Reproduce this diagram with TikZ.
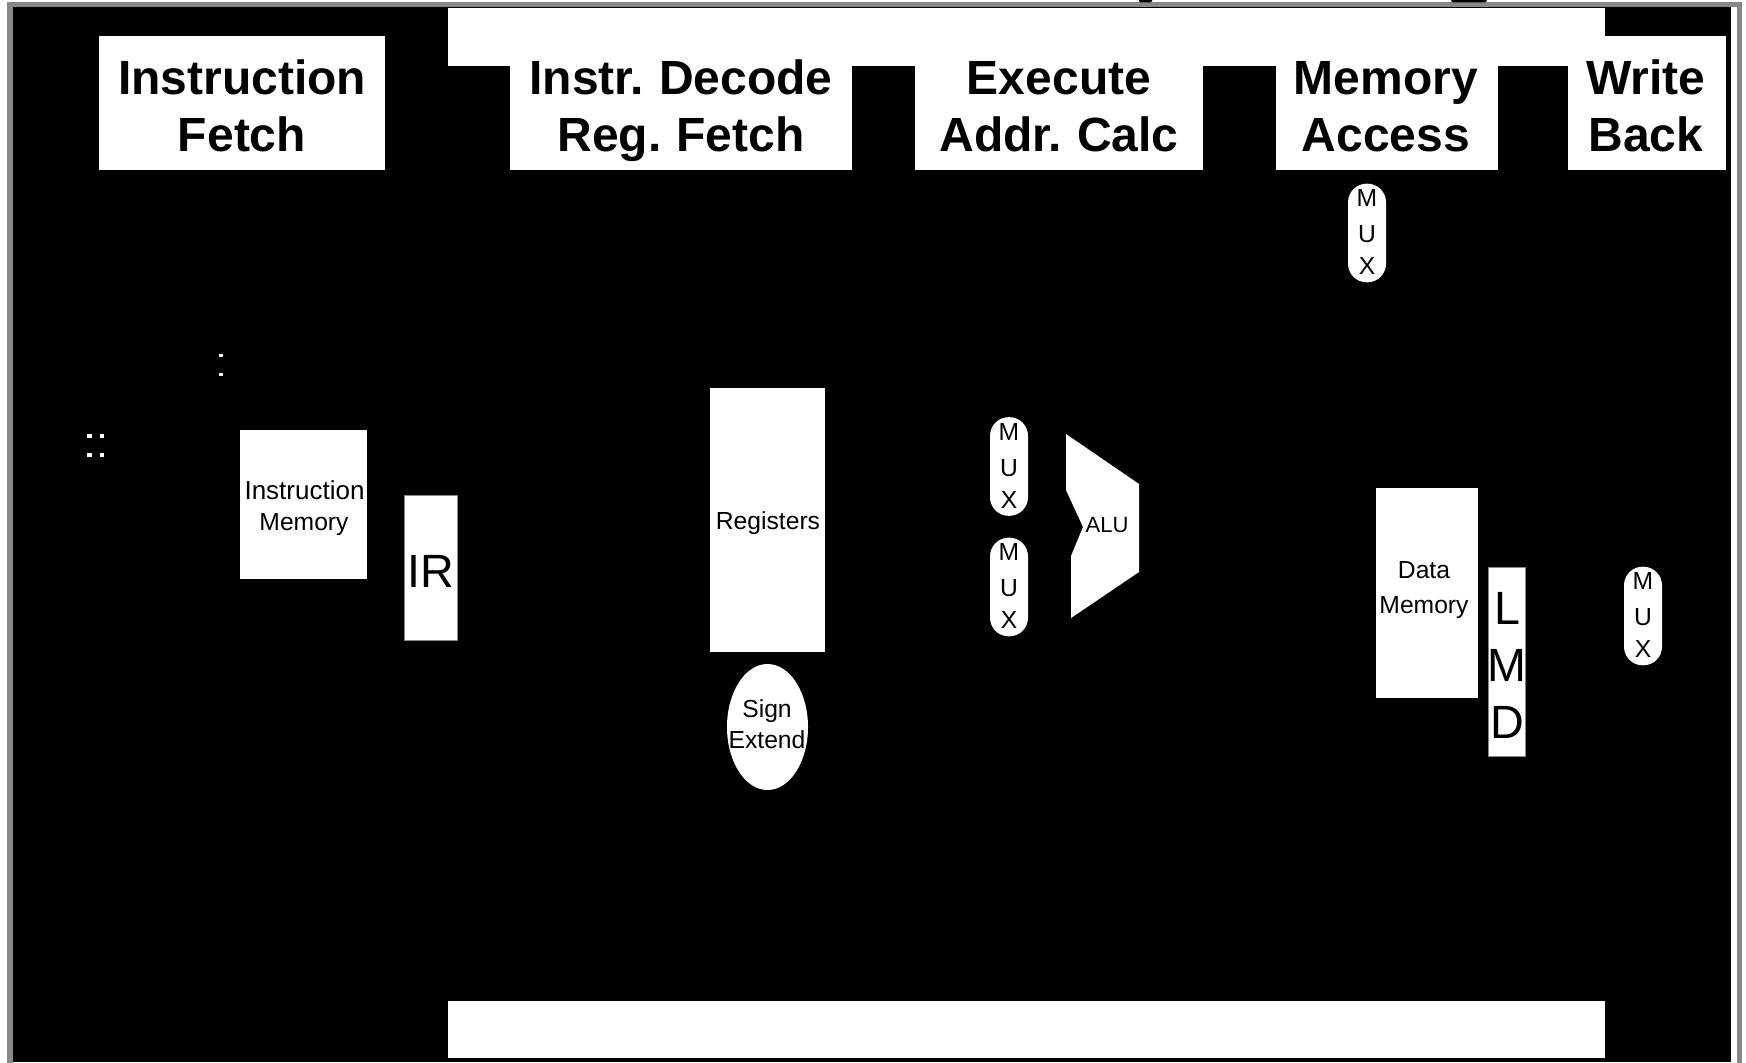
\documentclass[tikz,border=0pt]{standalone}
\usepackage{fontspec}
\setmainfont[WordSpace=0.8]{Liberation Sans}
\usetikzlibrary{shapes.geometric}
\newcommand{\fsz}[1]{\fontsize{#1}{#1}\selectfont}
\definecolor{framegray}{HTML}{888888}
\tikzset{
  px/.style={x=0.75pt,y=-0.75pt},
  solidwhite/.style={fill=white,draw=none},
  solidblack/.style={fill=black,draw=none},
  hdrbox/.style={solidwhite,rectangle,inner sep=0pt,anchor=north west},
  hdrtext/.style={anchor=base,inner sep=0pt,font=\fsz{36}\bfseries},
  unitbox/.style={solidwhite,rectangle,inner sep=0pt,anchor=center},
  regbox/.style={fill=white,draw=framegray,line width=0.75pt,rectangle,inner sep=0pt,anchor=center},
  muxoval/.style={solidwhite,rectangle,rounded corners=14pt,inner sep=0pt,minimum width=28.5pt,minimum height=74pt,anchor=center},
  smalltext/.style={anchor=base,inner sep=0pt,font=\fsz{18.5}},
  bigtext/.style={anchor=base,inner sep=0pt,font=\fsz{35}},
  speck/.style={solidwhite,rectangle,inner sep=0pt,minimum width=3.4pt,minimum height=2.4pt},
}
\begin{document}
\begin{tikzpicture}[px]
\useasboundingbox (0,0) rectangle (1746,1063);
% frame
\fill[white] (0,0) rectangle (1746,1063);
\fill[framegray] (7.3,2.5) rectangle (1742,1063);
\fill[white] (12.7,7) rectangle (1737,1063);
\fill[black] (12.7,7) rectangle (1731,1062.3);
% clipped text specks above the frame
\fill[black,rounded corners=1pt] (1139,-3) rectangle (1152,2.5);
\fill[black,rounded corners=2pt] (1451,-3) rectangle (1487,2.5);
% white bands
\fill[white] (447.6,8.5) rectangle (1605,65.7);
\fill[white] (1567.5,35.7) rectangle (1725.3,65.7);
\fill[white] (447.6,1001) rectangle (1605,1058);
% stage headers
\node[hdrbox,minimum width=214.5pt,minimum height=100.1pt] (ifbox) at (99,36) {};
\node[hdrbox,minimum width=256.5pt,minimum height=100.1pt] (idbox) at (510,36) {};
\node[hdrbox,minimum width=215.7pt,minimum height=100.1pt] (exbox) at (915,36) {};
\node[hdrbox,minimum width=166.1pt,minimum height=100.1pt] (membox) at (1276,36) {};
\node[hdrbox,minimum width=118.4pt,minimum height=100.1pt] (wbbox) at (1567.5,36) {};
\node[hdrtext] (ift1) at (242,94) {Instruction};
\node[hdrtext] (ift2) at (242,151.7) {Fetch};
\node[hdrtext] (idt1) at (681,94) {Instr. Decode};
\node[hdrtext] (idt2) at (681,151.7) {Reg. Fetch};
\node[hdrtext] (ext1) at (1059,94) {Execute};
\node[hdrtext] (ext2) at (1059,151.7) {Addr. Calc};
\node[hdrtext] (met1) at (1386,94) {Memory};
\node[hdrtext] (met2) at (1386,151.7) {Access};
\node[hdrtext] (wbt1) at (1646,94) {Write};
\node[hdrtext] (wbt2) at (1646,151.7) {Back};
% isolated dots
\node[speck] (d1) at (221,355.5) {};
\node[speck] (d2) at (221,374.5) {};
\node[speck,minimum width=3.6pt] (d3) at (89.5,436) {};
\node[speck,minimum width=3.6pt] (d4) at (89.5,455) {};
\node[speck,minimum width=3pt] (d5) at (102,436) {};
\node[speck,minimum width=3pt] (d6) at (102,455) {};
% instruction memory
\node[unitbox,minimum width=95.25pt,minimum height=111.75pt] (imem) at (303.5,504.5) {};
\node[smalltext,font=\fsz{19.5}] (imt1) at (304.5,499) {Instruction};
\node[smalltext] (imt2) at (304,530) {Memory};
% IR
\node[regbox,minimum width=40pt,minimum height=109pt] (ir) at (431,568) {};
\node[bigtext] (irt) at (431,587) {IR};
% registers
\node[unitbox,minimum width=86.25pt,minimum height=198pt] (regs) at (767.5,520) {};
\node[smalltext] (regt) at (768,529) {Registers};
% sign extend
\node[solidwhite,ellipse,inner sep=0pt,minimum width=60.75pt,minimum height=94.5pt] (sext) at (767.5,727) {};
\node[smalltext] (sxt1) at (767,717) {Sign};
\node[smalltext] (sxt2) at (767,748) {Extend};
% muxes
\node[muxoval] (mux1) at (1009,466.5) {};
\node[muxoval] (mux2) at (1009,587) {};
\node[muxoval] (mux3) at (1367,233) {};
\node[muxoval] (mux4) at (1643,616) {};
\foreach \n/\x/\y in {mux1/1009/440,mux2/1009/560,mux3/1367/206,mux4/1643/589}{
  \node[smalltext] (\n m) at (\x,\y) {M};
  \node[smalltext] (\n u) at (\x,\y+36) {U};
  \node[smalltext] (\n x) at (\x,\y+68) {X};
}
% ALU
\fill[white] (1066,434) -- (1139,484) -- (1139,572) -- (1071,618) -- (1071,556) -- (1083,527) -- (1066,490) -- cycle;
\node[smalltext,font=\fsz{16.5}] (alut) at (1107,532) {ALU};
% data memory
\node[unitbox,minimum width=76.5pt,minimum height=157.5pt] (dmem) at (1427,593) {};
\node[smalltext] (dmt1) at (1424,578) {Data};
\node[smalltext] (dmt2) at (1424,613) {Memory};
% LMD
\node[regbox,minimum width=28pt,minimum height=141.5pt] (lmd) at (1507,662) {};
\node[bigtext] (lmdl) at (1507,624) {L};
\node[bigtext] (lmdm) at (1507,681) {M};
\node[bigtext] (lmdd) at (1507,738) {D};
\end{tikzpicture}
\end{document}
